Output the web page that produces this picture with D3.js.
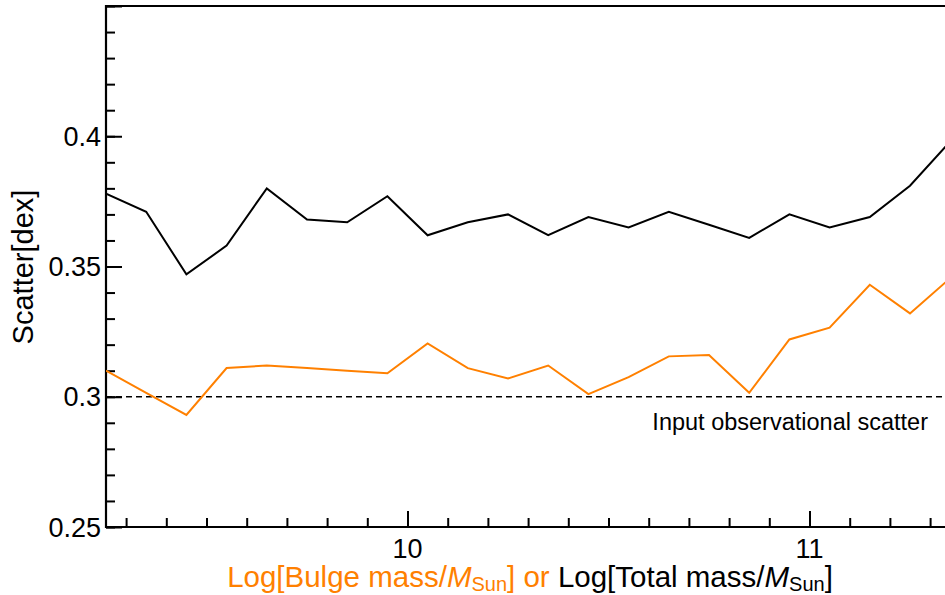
<!DOCTYPE html>
<html>
<head>
<meta charset="utf-8">
<script src="https://cdnjs.cloudflare.com/ajax/libs/d3/7.8.5/d3.min.js"></script>
<style>
  body { margin: 0; background: #fff; }
  text { font-family: "Liberation Sans", Arial, Helvetica, sans-serif; }
</style>
</head>
<body>
<div id="chart"></div>
<script>
// bin centres, log mass
var massBins = [9.25, 9.35, 9.45, 9.55, 9.65, 9.75, 9.85, 9.95, 10.05, 10.15, 10.25,
                10.35, 10.45, 10.55, 10.65, 10.75, 10.85, 10.95, 11.05, 11.15, 11.25, 11.35];
// scatter vs total mass (black)
var totalScatter = [0.378, 0.371, 0.347, 0.358, 0.380, 0.368, 0.367, 0.377, 0.362, 0.367, 0.370,
                    0.362, 0.369, 0.365, 0.371, 0.366, 0.361, 0.370, 0.365, 0.369, 0.381, 0.398];
// scatter vs bulge mass (orange)
var bulgeScatter = [0.310, 0.3015, 0.293, 0.311, 0.312, 0.311, 0.310, 0.309, 0.3205, 0.311, 0.307,
                    0.312, 0.301, 0.3075, 0.3155, 0.316, 0.3015, 0.322, 0.3265, 0.343, 0.332, 0.3455];
var inputScatter = 0.3;
var yMajorTicks = [0.25, 0.3, 0.35, 0.4, 0.45];
var xMajorTicks = [10, 11];

var width = 945, height = 595;
var orange = "#ff8000";
// note: "top" is taken by window.top, so plot edges get their own names
var plotLeft = 106, plotTop = 6, plotBottom = 527;

var xScale = d3.scaleLinear()
  .domain([9.25, 11.5])
  .range([plotLeft, plotLeft + 2.25 * 402]);

var yScale = d3.scaleLinear()
  .domain([0.25, 0.45])
  .range([plotBottom, plotTop]);

var svg = d3.select("#chart").append("svg")
  .attr("width", width)
  .attr("height", height);

svg.append("clipPath")
  .attr("id", "plotclip")
  .append("rect")
  .attr("x", plotLeft)
  .attr("y", plotTop)
  .attr("width", width - plotLeft)
  .attr("height", plotBottom - plotTop);

// minor ticks every 0.01 / 0.1, drawn inward
var yMinor = d3.range(25, 46).map(function(d){ return d / 100; });
var xMinor = d3.range(93, 114).map(function(d){ return d / 10; });

function tickAxis(axis, values, size, transform) {
  svg.append("g")
    .attr("transform", transform)
    .call(axis.tickValues(values).tickSize(size).tickFormat(""))
    .call(function(g){ g.select(".domain").remove(); })
    .selectAll("line").attr("stroke-width", 2);
}

tickAxis(d3.axisRight(yScale), yMinor, 9, "translate(" + plotLeft + ",0)");
tickAxis(d3.axisRight(yScale), yMajorTicks, 16, "translate(" + plotLeft + ",0)");
tickAxis(d3.axisTop(xScale), xMinor, 9, "translate(0," + plotBottom + ")");
tickAxis(d3.axisTop(xScale), xMajorTicks, 16, "translate(0," + plotBottom + ")");

// tick labels
svg.selectAll(".ylab")
  .data(yMajorTicks.filter(function(d){ return d < 0.45; }))
  .enter().append("text")
  .attr("x", plotLeft - 5)
  .attr("y", function(d){ return yScale(d); })
  .attr("dy", "0.36em")
  .attr("text-anchor", "end")
  .style("font-size", "27px")
  .text(function(d){ return String(+d.toFixed(2)); });

svg.selectAll(".xlab")
  .data(xMajorTicks)
  .enter().append("text")
  .attr("x", function(d){ return xScale(d); })
  .attr("y", 558)
  .attr("text-anchor", "middle")
  .style("font-size", "27px")
  .text(function(d){ return d; });

// frame
svg.append("path")
  .attr("d", "M" + (width + 5) + "," + plotTop + "H" + plotLeft + "V" + plotBottom + "H" + (width + 5))
  .attr("fill", "none")
  .attr("stroke", "black")
  .attr("stroke-width", 2.2);

var plot = svg.append("g").attr("clip-path", "url(#plotclip)");

// input scatter reference
plot.append("line")
  .attr("x1", plotLeft)
  .attr("x2", width)
  .attr("y1", yScale(inputScatter))
  .attr("y2", yScale(inputScatter))
  .attr("stroke", "black")
  .attr("stroke-width", 1.6)
  .attr("stroke-dasharray", "6,4");

var line = d3.line()
  .x(function(d){ return xScale(d[0]); })
  .y(function(d){ return yScale(d[1]); });

plot.append("path")
  .datum(d3.zip(massBins, totalScatter))
  .attr("d", line)
  .attr("fill", "none")
  .attr("stroke", "black")
  .attr("stroke-width", 2);

plot.append("path")
  .datum(d3.zip(massBins, bulgeScatter))
  .attr("d", line)
  .attr("fill", "none")
  .attr("stroke", orange)
  .attr("stroke-width", 2);

svg.append("text")
  .attr("x", 928)
  .attr("y", 430)
  .attr("text-anchor", "end")
  .style("font-size", "23.5px")
  .text("Input observational scatter");

// y-axis title
svg.append("text")
  .attr("transform", "translate(33,267) rotate(-90)")
  .attr("text-anchor", "middle")
  .style("font-size", "29px")
  .text("Scatter[dex]");

// x-axis title with italic M and subscript
var xt = svg.append("text")
  .attr("x", 530)
  .attr("y", 587)
  .attr("text-anchor", "middle")
  .style("font-size", "29.5px");
xt.append("tspan").attr("fill", orange).text("Log[Bulge mass/");
xt.append("tspan").attr("fill", orange).style("font-style", "italic").text("M");
xt.append("tspan").attr("fill", orange).attr("dy", 4).style("font-size", "20px").text("Sun");
xt.append("tspan").attr("fill", orange).attr("dy", -4).text("] or ");
xt.append("tspan").attr("fill", "black").text("Log[Total mass/");
xt.append("tspan").attr("fill", "black").style("font-style", "italic").text("M");
xt.append("tspan").attr("fill", "black").attr("dy", 4).style("font-size", "20px").text("Sun");
xt.append("tspan").attr("fill", "black").attr("dy", -4).text("]");
</script>
</body>
</html>
